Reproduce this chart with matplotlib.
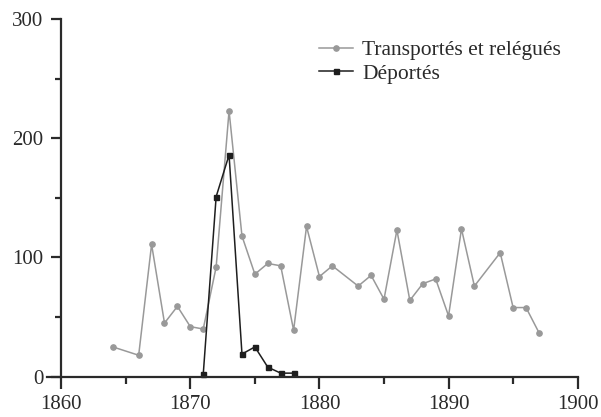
# %% Imports

import matplotlib.pyplot as plt
from matplotlib.ticker import MultipleLocator

# %% Data

trans_years = [1864, 1866, 1867, 1868, 1869, 1870, 1871, 1872, 1873, 1874, 1875,
               1876, 1877, 1878, 1879, 1880, 1881, 1883, 1884, 1885, 1886, 1887,
               1888, 1889, 1890, 1891, 1892, 1894, 1895, 1896, 1897]
trans_values = [25, 18, 111, 45, 59, 42, 40, 92, 223, 118, 86,
                95, 93, 39, 126, 84, 93, 76, 85, 65, 123, 64,
                78, 82, 51, 124, 76, 104, 58, 58, 37]

dep_years = [1871, 1872, 1873, 1874, 1875, 1876, 1877, 1878]
dep_values = [2, 151, 186, 19, 25, 8, 3, 3]

labels = ['Transportés et relégués', 'Déportés']
xticks = [1860, 1870, 1880, 1890, 1900]
yticks = [0, 100, 200, 300]

# %% Plot

plt.rcParams['font.family'] = ['Liberation Serif', 'DejaVu Serif']

fig = plt.figure(figsize=(6.01, 4.17), dpi=100)
ax = fig.add_axes([0.0782, 0.0966, 0.9612 - 0.0782, 0.9544 - 0.0966])

ax.plot(trans_years, trans_values, color='#999999', lw=1.1, marker='o',
        ms=3.8, label=labels[0], clip_on=False)
ax.plot(dep_years, dep_values, color='#1e1e1e', lw=1.1, marker='s',
        ms=3.6, label=labels[1], clip_on=False)

ax.set_xlim(1858.9, 1900)
ax.set_ylim(0, 300)

ax.spines['top'].set_visible(False)
ax.spines['right'].set_visible(False)
ax.spines['left'].set_position(('data', 1860))
for s in ['left', 'bottom']:
    ax.spines[s].set_linewidth(1.6)
    ax.spines[s].set_color('#2a2a2a')

ax.set_xticks(xticks)
ax.set_yticks(yticks)
ax.xaxis.set_minor_locator(MultipleLocator(5))
ax.yaxis.set_minor_locator(MultipleLocator(50))
ax.tick_params(axis='x', which='major', length=8.5, width=1.6, color='#2a2a2a',
               labelsize=15, pad=5, labelcolor='#2a2a2a')
ax.tick_params(axis='x', which='minor', length=5, width=1.6, color='#2a2a2a')
ax.tick_params(axis='y', which='major', length=7, width=1.6, color='#2a2a2a',
               labelsize=15, pad=6, labelcolor='#2a2a2a')
ax.tick_params(axis='y', which='minor', length=4.3, width=1.6, color='#2a2a2a')

ax.legend(loc='upper left', bbox_to_anchor=(0.497, 0.965), frameon=False,
          fontsize=15.5, handlelength=1.55, handletextpad=0.45, labelspacing=0.15,
          borderaxespad=0, labelcolor='#2a2a2a')

plt.savefig('out.png', dpi=100, facecolor='white')
